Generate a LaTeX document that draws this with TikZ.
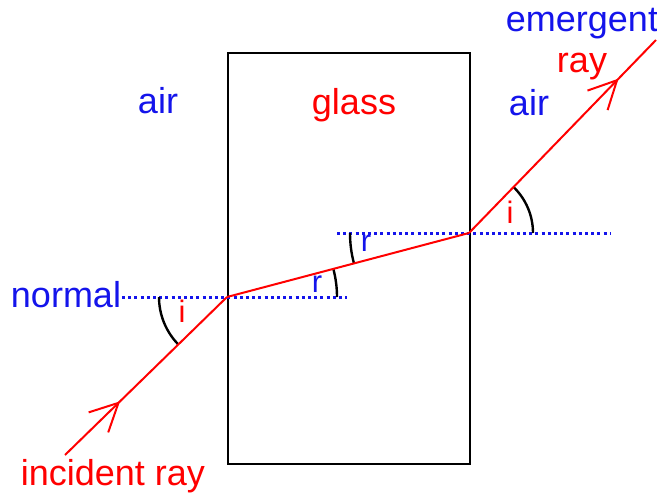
\documentclass[tikz,border=0pt]{standalone}
\usepackage{fontspec}
\setmainfont{Liberation Sans}
\usetikzlibrary{arrows.meta,decorations.markings}
\definecolor{txtblue}{RGB}{20,20,235}
\definecolor{rayred}{RGB}{255,0,0}
\tikzset{
  lbl/.style={font=\fontsize{36}{36}\selectfont, inner sep=0pt, anchor=base},
  anglbl/.style={font=\fontsize{31}{31}\selectfont, inner sep=0pt, anchor=base},
  ray/.style={draw=rayred, line width=2pt},
  midarrow/.style={postaction={decorate}, decoration={markings,
     mark=at position #1 with {\arrow[rayred, line width=2pt]{Straight Barb[length=28pt,width=28pt]}}}},
  normalline/.style={draw=txtblue, line width=3pt, dash pattern=on 3pt off 3.2pt},
  anglearc/.style={draw=black, line width=2.4pt},
  glassbox/.style={draw=black, line width=2pt}
}
\begin{document}
\begin{tikzpicture}[x=1pt,y=-1pt]
\useasboundingbox (0,0) rectangle (657,496);
% glass block
\node[glassbox, minimum width=242pt, minimum height=411pt, inner sep=0pt, anchor=north west] (glass) at (227,52) {};
% key points
\coordinate (E) at (227,297);
\coordinate (X) at (469,233);
\coordinate (S) at (65,455);
\coordinate (T) at (656,40);
\coordinate (N1a) at (122,297);
\coordinate (N1b) at (347,297);
\coordinate (N2a) at (337,233);
\coordinate (N2b) at (610,233);
% normals
\draw[normalline] (N1a) -- (N1b);
\draw[normalline] (N2a) -- (N2b);
% angle arcs (y axis points down, so angles run clockwise on screen)
\draw[anglearc] (E) ++(180:68) arc[start angle=180, end angle=135.7, radius=68];
\draw[anglearc] (E) ++(0:110) arc[start angle=0, end angle=-14.8, radius=110];
\draw[anglearc] (X) ++(180:119) arc[start angle=180, end angle=165.2, radius=119];
\draw[anglearc] (X) ++(0:64) arc[start angle=0, end angle=-46, radius=64];
% rays
\draw[ray, midarrow=0.34] (S) -- (E);
\draw[ray] (E) -- (X);
\draw[ray, midarrow=0.8] (X) -- (T);
% labels
\node[lbl, txtblue] (airL) at (158,113) {air};
\node[lbl, rayred] (glasslbl) at (354,114) {glass};
\node[lbl, txtblue] (airR) at (529,115) {air};
\node[lbl, txtblue] (emerg) at (582,31) {emergent};
\node[lbl, rayred] (emray) at (582,72) {ray};
\node[lbl, txtblue] (normal) at (66,307) {normal};
\node[lbl, rayred] (incid) at (113,485) {incident ray};
\node[anglbl, rayred] (i1) at (182,322) {i};
\node[anglbl, txtblue] (r1) at (317,292) {r};
\node[anglbl, txtblue] (r2) at (366,251) {r};
\node[anglbl, rayred] (i2) at (510,223) {i};
\end{tikzpicture}
\end{document}
